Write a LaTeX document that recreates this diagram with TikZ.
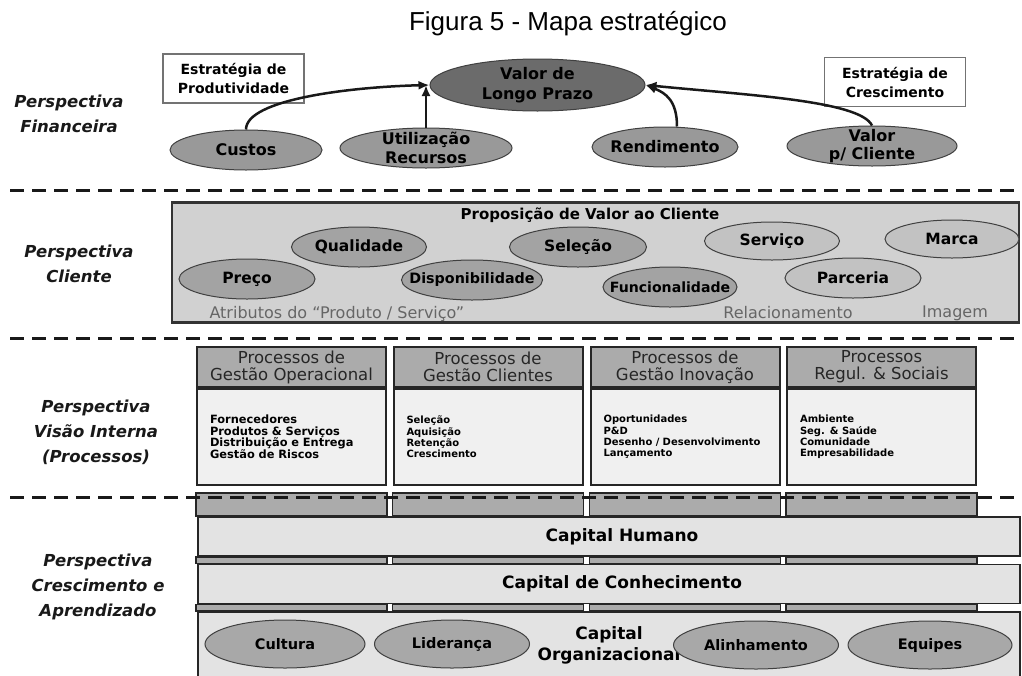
\documentclass[tikz,border=0pt]{standalone}
\usepackage{fontspec}
\setmainfont{DejaVu Sans}
\newfontfamily\titlefont{Liberation Sans}
\usetikzlibrary{shapes.geometric, arrows.meta, positioning}

\definecolor{finfill}{gray}{0.60}
\definecolor{valfill}{gray}{0.42}
\definecolor{clientfill}{gray}{0.82}
\definecolor{darkell}{gray}{0.64}
\definecolor{lightell}{gray}{0.76}
\definecolor{headfill}{gray}{0.67}
\definecolor{bodyfill}{gray}{0.94}
\definecolor{barfill}{gray}{0.89}
\definecolor{pillarfill}{gray}{0.67}
\definecolor{orgell}{gray}{0.66}

\begin{document}
\begin{tikzpicture}[x=1pt, y=-1pt,
  titletxt/.style={font=\titlefont\fontsize{26}{28}\selectfont},
  persp/.style={align=center, text=black!90, font=\bfseries\itshape\fontsize{16.5}{25}\selectfont},
  stratbox/.style={draw=black!55, line width=1.2pt, fill=white, minimum width=141pt,
    minimum height=49pt, inner sep=0pt, align=center, font=\bfseries\fontsize{14}{19}\selectfont},
  finell/.style={ellipse, draw=black!75, line width=1pt, fill=finfill, minimum height=40pt,
    inner xsep=-30pt, inner ysep=-3pt, align=center, font=\bfseries\fontsize{16}{18.5}\selectfont},
  cliell/.style={ellipse, draw=black!75, line width=1pt, fill=darkell, minimum height=40pt,
    inner xsep=-30pt, inner ysep=0pt, font=\bfseries\fontsize{15.5}{17}\selectfont},
  cbox/.style={draw=black!80, line width=2.2pt, fill=clientfill, minimum width=847pt,
    minimum height=120pt, inner sep=0pt},
  ctxt/.style={text=black!60, font=\fontsize{16}{18}\selectfont},
  phead/.style={draw=black!85, line width=2pt, fill=headfill, minimum width=189pt,
    minimum height=40pt, inner sep=0pt, align=center, text=black!85,
    font=\fontsize{16.5}{17}\selectfont},
  pbody/.style={draw=black!85, line width=2pt, fill=bodyfill, minimum height=96pt,
    text width=163pt, inner xsep=13pt, align=left, font=\bfseries\fontsize{10}{11.3}\selectfont},
  pillar/.style={draw=black!85, line width=1.5pt, fill=pillarfill},
  capbar/.style={draw=black!85, line width=1.8pt, fill=barfill, minimum width=822pt,
    minimum height=39pt, inner sep=0pt, align=center, font=\bfseries\fontsize{17}{21}\selectfont},
  orgellipse/.style={ellipse, draw=black!75, line width=1pt, fill=orgell, minimum height=48pt,
    inner xsep=-30pt, inner ysep=0pt, font=\bfseries\fontsize{14.5}{16}\selectfont},
  sepline/.style={line width=3pt, dash pattern=on 14pt off 8pt, black!90},
  arr/.style={-{Latex[length=11pt, width=9pt]}, line width=2.5pt, black!90}
]
  \fill[white] (0,0) rectangle (1022,675);
  \useasboundingbox (0,0) rectangle (1022,675);

  %% Title
  \node[titletxt] (title) at (568,24) {Figura 5 - Mapa estratégico};

  %% Perspectiva Financeira
  \node[persp] (pfin) at (69,114) {Perspectiva\\Financeira};
  \node[stratbox] (sprod) at (233.5,78.5) {Estratégia de\\Produtividade};
  \node[stratbox] (scresc) at (895,82) {Estratégia de\\Crescimento};
  \node[finell, fill=valfill, minimum width=215pt, minimum height=52pt,
    font=\bfseries\fontsize{16}{19.5}\selectfont] (valor) at (537.5,85) {Valor de\\Longo Prazo};
  \node[finell, minimum width=152pt] (custos) at (246,150) {Custos};
  \node[finell, minimum width=172pt] (util) at (426,148) {Utilização\\Recursos};
  \node[finell, minimum width=146pt] (rend) at (665,147) {Rendimento};
  \node[finell, minimum width=170pt] (vcli) at (872,146) {Valor\\p/ Cliente};

  \draw[arr] (custos.north) .. controls +(0,-30) and +(-80,2) .. (valor.west);
  \draw[arr] (util.north) -- (util.north |- valor.west);
  \draw[arr] ([xshift=12pt]rend.north) .. controls +(0,-26) and +(20,8) .. (valor.east);
  \draw[arr] (vcli.north) .. controls +(-12,-25) and +(100,10) .. (valor.east);

  \draw[sepline] (10,190) -- (1022,190);

  %% Perspectiva Cliente
  \node[persp] (pcli) at (79,264) {Perspectiva\\Cliente};
  \node[cbox] (clibox) at (595.5,262.5) {};
  \node[font=\bfseries\fontsize{15}{17}\selectfont] (propos) at (590,215) {Proposição de Valor ao Cliente};
  \node[cliell, minimum width=136pt] (preco) at (247,279) {Preço};
  \node[cliell, minimum width=135pt] (qual) at (359,247) {Qualidade};
  \node[cliell, minimum width=137pt] (selec) at (578,247) {Seleção};
  \node[cliell, minimum width=141pt, font=\bfseries\fontsize{14.3}{16}\selectfont] (disp) at (472,280) {Disponibilidade};
  \node[cliell, minimum width=134pt, font=\bfseries\fontsize{14.1}{16}\selectfont] (func) at (670,287) {Funcionalidade};
  \node[cliell, fill=lightell, minimum width=135pt, minimum height=38pt] (serv) at (772,241) {Serviço};
  \node[cliell, fill=lightell, minimum width=134pt, minimum height=38pt] (marca) at (952,239) {Marca};
  \node[cliell, fill=lightell, minimum width=136pt] (parc) at (853,278) {Parceria};
  \node[ctxt, anchor=west] (atrib) at (206,314) {Atributos do “Produto / Serviço”};
  \node[ctxt] (relac) at (788,313) {Relacionamento};
  \node[ctxt] (imagem) at (955,313) {Imagem};

  \draw[sepline] (10,338) -- (1022,338);

  %% Perspectiva Visao Interna
  \node[persp] (pint) at (96,432) {Perspectiva\\Visão Interna\\(Processos)};
  \node[phead] (h1) at (291.5,367) {Processos de\\Gestão Operacional};
  \node[phead] (h2) at (488,367) {Processos de\\Gestão Clientes};
  \node[phead] (h3) at (685,367) {Processos de\\Gestão Inovação};
  \node[phead] (h4) at (881.5,367) {Processos\\Regul. \& Sociais};
  \node[pbody, below=0pt of h1, font=\bfseries\fontsize{11.4}{11.3}\selectfont] (b1)
    {Fornecedores\\Produtos \& Serviços\\Distribuição e Entrega\\Gestão de Riscos};
  \node[pbody, below=0pt of h2] (b2) {Seleção\\Aquisição\\Retenção\\Crescimento};
  \node[pbody, below=0pt of h3] (b3) {Oportunidades\\P\&D\\Desenho / Desenvolvimento\\Lançamento};
  \node[pbody, below=0pt of h4] (b4) {Ambiente\\Seg. \& Saúde\\Comunidade\\Empresabilidade};

  %% Perspectiva Crescimento e Aprendizado
  \node[persp] (pcresc) at (98,587) {Perspectiva\\Crescimento e\\Aprendizado};
  \node[capbar] (hum) at (609,536.5) {\hspace*{26pt}Capital Humano};
  \node[capbar] (con) at (609,584) {\hspace*{26pt}Capital de Conhecimento};
  \node[capbar, minimum height=66pt] (org) at (609,645) {Capital\\Organizacional};

  \draw[pillar] ([yshift=-7pt]b1.south west) rectangle (b1.east |- hum.north);
  \draw[pillar] ([yshift=-7pt]b2.south west) rectangle (b2.east |- hum.north);
  \draw[pillar] ([yshift=-7pt]b3.south west) rectangle (b3.east |- hum.north);
  \draw[pillar] ([yshift=-7pt]b4.south west) rectangle (b4.east |- hum.north);
  \draw[pillar] (b1.west |- hum.south) rectangle (b1.east |- con.north);
  \draw[pillar] (b2.west |- hum.south) rectangle (b2.east |- con.north);
  \draw[pillar] (b3.west |- hum.south) rectangle (b3.east |- con.north);
  \draw[pillar] (b4.west |- hum.south) rectangle (b4.east |- con.north);
  \draw[pillar] (b1.west |- con.south) rectangle (b1.east |- org.north);
  \draw[pillar] (b2.west |- con.south) rectangle (b2.east |- org.north);
  \draw[pillar] (b3.west |- con.south) rectangle (b3.east |- org.north);
  \draw[pillar] (b4.west |- con.south) rectangle (b4.east |- org.north);

  \node[orgellipse, minimum width=160pt] (cultura) at (285,644) {Cultura};
  \node[orgellipse, minimum width=155pt] (lider) at (452,644) {Liderança};
  \node[orgellipse, minimum width=165pt] (alinh) at (756,645) {Alinhamento};
  \node[orgellipse, minimum width=164pt] (equipes) at (930,645) {Equipes};

  \draw[sepline] (10,497) -- (1022,497);

\end{tikzpicture}
\end{document}
